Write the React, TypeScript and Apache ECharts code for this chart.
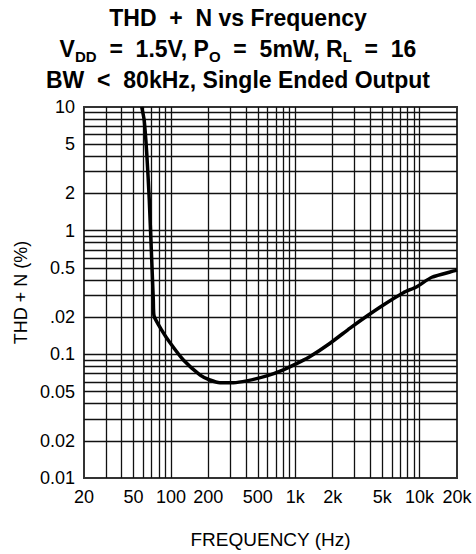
import React, { useEffect, useRef } from 'react';
import * as echarts from 'echarts';

// Curve: frequency (Hz) and THD+N (%)
const freqHz = [58.2, 61, 63.9, 67, 72.2, 73.2, 84.3, 98.4, 126, 172, 206, 248, 318, 407, 590, 802, 1094, 1316, 1906, 2760, 3876, 5116, 7410, 9500, 12540, 19300, 20000];
const thdN = [10, 7.8, 4.25, 1.77, 0.275, 0.204, 0.157, 0.124, 0.09, 0.068, 0.062, 0.059, 0.059, 0.061, 0.067, 0.075, 0.087, 0.096, 0.123, 0.163, 0.208, 0.251, 0.315, 0.352, 0.42, 0.475, 0.48];

// Grid lines
const xGridValues = [30, 40, 50, 60, 70, 80, 90, 100, 200, 300, 400, 500, 600, 700, 800, 900, 1000, 2000, 3000, 4000, 5000, 6000, 7000, 8000, 9000, 10000];
const yGridValues = [0.02, 0.03, 0.04, 0.05, 0.06, 0.07, 0.08, 0.09, 0.1, 0.2, 0.3, 0.4, 0.5, 0.6, 0.7, 0.8, 0.9, 1, 2, 3, 4, 5, 6, 7, 8, 9];

// Tick labels
const xTickValues = [20, 50, 100, 200, 500, 1000, 2000, 5000, 10000, 20000];
const xTickLabels = ['20', '50', '100', '200', '500', '1k', '2k', '5k', '10k', '20k'];
const yTickValues = [10, 5, 2, 1, 0.5, 0.2, 0.1, 0.05, 0.02, 0.01];
const yTickLabels = ['10', '5', '2', '1', '0.5', '.02', '0.1', '0.05', '0.02', '0.01'];

const FONT = '"Liberation Sans", Arial, Helvetica, sans-serif';

export default function App() {
  const ref = useRef<HTMLDivElement>(null);
  useEffect(() => {
    if (!ref.current) return;
    const chart = echarts.init(ref.current, undefined, { renderer: 'svg' });
    const curve = freqHz.map((f, i) => [f, thdN[i]]);
    const labelBase = { show: true, position: 'start', color: '#000', opacity: 1, fontSize: 18, fontFamily: FONT };
    chart.setOption({
      animation: false,
      backgroundColor: '#fff',
      title: {
        left: 'center',
        top: 2,
        padding: 0,
        text:
          '{m|THD  +  N vs Frequency}\n' +
          '{m|V}{s|DD}{m|  =  1.5V, P}{s|O}{m|  =  5mW, R}{s|L}{m|  =  16}\n' +
          '{m|BW  <  80kHz, Single Ended Output}',
        textStyle: {
          fontFamily: FONT,
          fontWeight: 'bold',
          fontSize: 23,
          lineHeight: 31,
          color: '#000',
          rich: {
            m: { fontFamily: FONT, fontWeight: 'bold', fontSize: 23, lineHeight: 31, color: '#000' },
            s: { fontFamily: FONT, fontWeight: 'bold', fontSize: 15, lineHeight: 16, verticalAlign: 'bottom', color: '#000' },
          },
        },
      },
      grid: {
        left: 84,
        right: 19,
        top: 107,
        bottom: 76,
        show: true,
        borderColor: '#333',
        borderWidth: 2,
        backgroundColor: 'transparent',
      },
      xAxis: {
        type: 'log',
        logBase: 10,
        min: 20,
        max: 20000,
        axisLine: { show: false },
        axisTick: { show: false },
        axisLabel: { show: false },
        splitLine: { show: false },
        name: 'FREQUENCY (Hz)',
        nameLocation: 'middle',
        nameGap: 52,
        nameTextStyle: { fontFamily: FONT, fontSize: 19, color: '#000' },
      },
      yAxis: {
        type: 'log',
        logBase: 10,
        min: 0.01,
        max: 10,
        axisLine: { show: false },
        axisTick: { show: false },
        axisLabel: { show: false },
        splitLine: { show: false },
        name: 'THD + N (%)',
        nameLocation: 'middle',
        nameGap: 54,
        nameTextStyle: { fontFamily: FONT, fontSize: 18, color: '#000' },
      },
      series: [
        {
          type: 'line',
          data: [],
          silent: true,
          z: 1,
          markLine: {
            silent: true,
            symbol: 'none',
            animation: false,
            label: { show: false },
            lineStyle: { color: '#111', width: 1.3, type: 'solid' },
            emphasis: { disabled: true },
            data: [
              ...xGridValues.map((v) => ({ xAxis: v })),
              ...yGridValues.map((v) => ({ yAxis: v })),
            ],
          },
        },
        {
          type: 'line',
          data: [],
          silent: true,
          z: 1,
          markLine: {
            silent: true,
            symbol: 'none',
            animation: false,
            lineStyle: { color: 'rgba(0,0,0,0)', width: 0 },
            emphasis: { disabled: true },
            data: [
              ...xTickValues.map((v, i) => ({ xAxis: v, label: { ...labelBase, distance: 10, formatter: xTickLabels[i] } })),
              ...yTickValues.map((v, i) => ({ yAxis: v, label: { ...labelBase, distance: 9, formatter: yTickLabels[i] } })),
            ],
          },
        },
        {
          type: 'line',
          data: curve,
          z: 5,
          symbol: 'none',
          smooth: 0.2,
          lineStyle: { color: '#000', width: 3.5 },
          silent: true,
        },
      ],
    });
    return () => chart.dispose();
  }, []);
  return <div ref={ref} style={{ position: 'absolute', left: 0, top: 0, width: 476, height: 554 }} />;
}
